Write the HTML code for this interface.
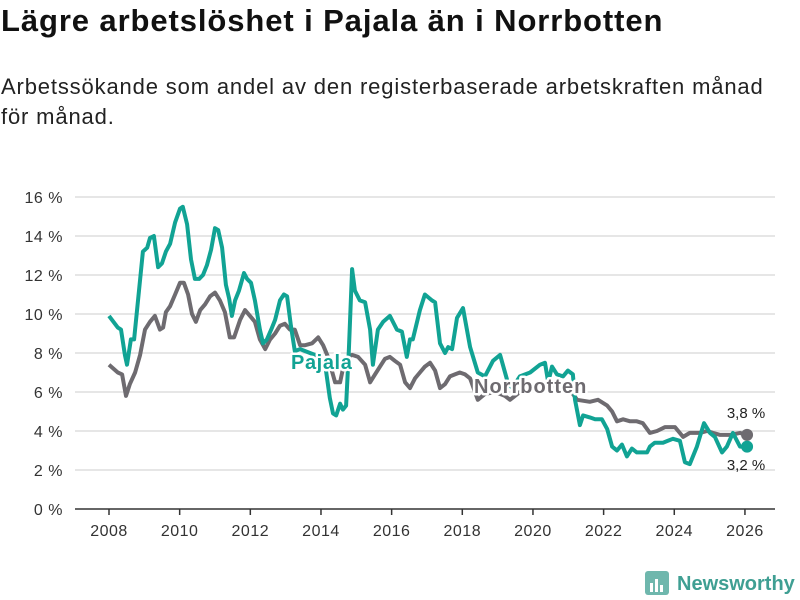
<!DOCTYPE html>
<html><head><meta charset="utf-8"><style>
body{margin:0;width:800px;height:600px;background:#fff;font-family:"Liberation Sans",sans-serif;overflow:hidden;position:relative}
h1{position:absolute;left:1px;top:3px;margin:0;font-size:31px;font-weight:bold;color:#111;letter-spacing:0.9px;white-space:nowrap}
p{position:absolute;left:1px;top:72px;margin:0;font-size:22px;line-height:30px;color:#222;width:798px;letter-spacing:0.85px;white-space:nowrap}
</style></head><body>
<h1>Lägre arbetslöshet i Pajala än i Norrbotten</h1>
<p>Arbetssökande som andel av den registerbaserade arbetskraften månad<br>för månad.</p>
<svg id="chart" width="800" height="600" style="position:absolute;left:0;top:0"></svg>
<script>
const pajYears=[2008.00,2008.25,2008.34,2008.45,2008.51,2008.62,2008.71,2008.85,2008.96,2009.08,2009.16,2009.27,2009.39,2009.50,2009.61,2009.73,2009.87,2010.01,2010.09,2010.21,2010.32,2010.43,2010.55,2010.66,2010.77,2010.89,2011.00,2011.09,2011.20,2011.31,2011.40,2011.48,2011.57,2011.68,2011.82,2011.91,2012.02,2012.13,2012.27,2012.36,2012.47,2012.59,2012.70,2012.84,2012.95,2013.04,2013.15,2013.26,2013.41,2013.69,2013.97,2014.11,2014.25,2014.34,2014.43,2014.54,2014.62,2014.71,2014.79,2014.88,2014.96,2015.10,2015.25,2015.39,2015.47,2015.61,2015.76,2015.95,2016.15,2016.29,2016.43,2016.52,2016.60,2016.80,2016.94,2017.14,2017.23,2017.37,2017.51,2017.60,2017.71,2017.85,2018.02,2018.22,2018.44,2018.64,2018.87,2019.07,2019.27,2019.41,2019.63,2019.92,2020.20,2020.34,2020.43,2020.54,2020.68,2020.85,2020.99,2021.13,2021.19,2021.33,2021.42,2021.61,2021.76,2021.95,2022.10,2022.24,2022.38,2022.52,2022.66,2022.80,2022.94,2023.23,2023.31,2023.45,2023.68,2023.82,2023.96,2024.16,2024.30,2024.44,2024.64,2024.84,2025.01,2025.15,2025.35,2025.49,2025.66,2025.86,2026.06];
const pajValues=[9.9,9.3,9.2,7.9,7.4,8.7,8.7,11.2,13.2,13.4,13.9,14.0,12.4,12.6,13.2,13.6,14.7,15.4,15.5,14.6,12.8,11.8,11.8,12.0,12.5,13.3,14.4,14.3,13.4,11.5,10.8,9.9,10.7,11.2,12.1,11.8,11.6,10.7,9.2,8.5,8.7,9.2,9.7,10.7,11.0,10.9,9.4,8.1,8.2,8.0,7.8,7.5,5.7,4.9,4.8,5.4,5.1,5.3,8.2,12.3,11.2,10.7,10.6,9.2,7.4,9.2,9.6,9.9,9.2,9.1,7.8,8.7,8.7,10.2,11.0,10.7,10.6,8.5,8.0,8.3,8.2,9.8,10.3,8.3,7.0,6.8,7.6,7.9,6.6,6.2,6.8,7.0,7.4,7.5,6.5,7.3,6.9,6.8,7.1,6.9,5.6,4.3,4.8,4.7,4.6,4.6,4.1,3.2,3.0,3.3,2.7,3.1,2.9,2.9,3.2,3.4,3.4,3.5,3.6,3.5,2.4,2.3,3.2,4.4,3.9,3.7,2.9,3.2,3.9,3.2,3.2];
const norYears=[2008.00,2008.25,2008.37,2008.48,2008.59,2008.74,2008.88,2009.02,2009.16,2009.30,2009.44,2009.53,2009.61,2009.73,2009.87,2010.01,2010.12,2010.24,2010.35,2010.46,2010.58,2010.72,2010.86,2011.00,2011.14,2011.28,2011.42,2011.54,2011.71,2011.85,2011.99,2012.13,2012.27,2012.42,2012.56,2012.70,2012.84,2012.98,2013.12,2013.26,2013.41,2013.55,2013.75,2013.92,2014.06,2014.20,2014.40,2014.54,2014.68,2014.88,2015.05,2015.25,2015.39,2015.53,2015.67,2015.81,2015.95,2016.09,2016.24,2016.38,2016.52,2016.66,2016.80,2016.94,2017.09,2017.23,2017.37,2017.51,2017.65,2017.79,2017.93,2018.08,2018.22,2018.44,2018.64,2018.93,2019.21,2019.35,2019.63,2019.92,2020.20,2020.48,2020.77,2021.05,2021.25,2021.61,2021.84,2022.10,2022.24,2022.38,2022.55,2022.75,2022.94,2023.11,2023.31,2023.51,2023.74,2024.02,2024.25,2024.44,2024.73,2024.93,2025.10,2025.30,2025.58,2025.86,2026.06];
const norValues=[7.4,7.0,6.9,5.8,6.4,7.0,7.9,9.2,9.6,9.9,9.2,9.3,10.1,10.4,11.0,11.6,11.6,11.0,10.0,9.6,10.2,10.5,10.9,11.1,10.7,10.1,8.8,8.8,9.7,10.2,9.9,9.6,8.7,8.2,8.7,9.0,9.4,9.5,9.2,9.2,8.4,8.4,8.5,8.8,8.4,7.8,6.5,6.5,7.7,7.9,7.8,7.4,6.5,6.9,7.3,7.7,7.8,7.6,7.4,6.5,6.2,6.7,7.0,7.3,7.5,7.1,6.2,6.4,6.8,6.9,7.0,6.9,6.7,5.6,5.9,6.0,5.8,5.6,6.0,6.1,6.3,6.4,6.0,6.1,5.6,5.5,5.6,5.3,5.0,4.5,4.6,4.5,4.5,4.4,3.9,4.0,4.2,4.2,3.7,3.9,3.9,4.0,3.9,3.8,3.8,3.9,3.8];
const yTicks=[0,2,4,6,8,10,12,14,16];
const xTicks=[2008,2010,2012,2014,2016,2018,2020,2022,2024,2026];
const lastLabels=["3,8 %","3,2 %"];

const NS="http://www.w3.org/2000/svg";
const svg=document.getElementById('chart');
const x=v=>109+(v-2008)*35.33;
const y=v=>509-v*19.5;
function el(t,a,p){const e=document.createElementNS(NS,t);for(const k in a)e.setAttribute(k,a[k]);(p||svg).appendChild(e);return e;}
yTicks.forEach(t=>{
  const g=el('line',{x1:75,x2:775,y1:y(t),y2:y(t),stroke:t===0?'#333':'#ddd','stroke-width':1.5});
  
  
  const tx=el('text',{x:63,y:y(t)+6,'text-anchor':'end','font-size':16,fill:'#333','letter-spacing':0.5});
  tx.textContent=t+' %';
  
  
});
xTicks.forEach(t=>{
  const l=el('line',{x1:x(t),x2:x(t),y1:509,y2:515,stroke:'#333','stroke-width':1.5});
  
  
  const tx=el('text',{x:x(t),y:536,'text-anchor':'middle','font-size':16,fill:'#333','letter-spacing':0.5});
  tx.textContent=t;
  
  
});
function path(xs,vs){return xs.map((d,i)=>(i?'L':'M')+x(d).toFixed(1)+','+y(vs[i]).toFixed(1)).join('');}
const nl=el('path',{d:path(norYears,norValues),fill:'none',stroke:'#6e6b70','stroke-width':4,'stroke-linejoin':'round'});


const pl=el('path',{d:path(pajYears,pajValues),fill:'none',stroke:'#11a394','stroke-width':4,'stroke-linejoin':'round'});


const nd=el('circle',{cx:x(norYears[norYears.length-1]),cy:y(norValues[norValues.length-1]),r:6,fill:'#6e6b70'});


const pd=el('circle',{cx:x(pajYears[pajYears.length-1]),cy:y(pajValues[pajValues.length-1]),r:6,fill:'#11a394'});


const l1=el('text',{x:746,y:418,'text-anchor':'middle','font-size':15,fill:'#222'});l1.textContent=lastLabels[0];


const l2=el('text',{x:746,y:470,'text-anchor':'middle','font-size':15,fill:'#222'});l2.textContent=lastLabels[1];


const sl=el('text',{x:291,y:369,'font-size':20,'font-weight':'bold',fill:'#11a394',stroke:'#fff','stroke-width':5,'paint-order':'stroke','stroke-linejoin':'round','letter-spacing':0.6});sl.textContent='Pajala';


const sn=el('text',{x:474,y:393,'font-size':20,'font-weight':'bold',fill:'#6e6b70',stroke:'#fff','stroke-width':5,'paint-order':'stroke','stroke-linejoin':'round','letter-spacing':1});sn.textContent='Norrbotten';


const lg=el('g',{});


el('rect',{x:645,y:571,width:24,height:24,rx:3,fill:'#6fb7ad'},lg);
el('rect',{x:650,y:583,width:3,height:9,fill:'#fff'},lg);
el('rect',{x:655,y:579,width:3,height:13,fill:'#fff'},lg);
el('rect',{x:660,y:585,width:3,height:7,fill:'#fff'},lg);
const lt=el('text',{x:677,y:590,'font-size':20,'font-weight':'bold',fill:'#3f9f93'},lg);lt.textContent='Newsworthy';
</script>
</body></html>
